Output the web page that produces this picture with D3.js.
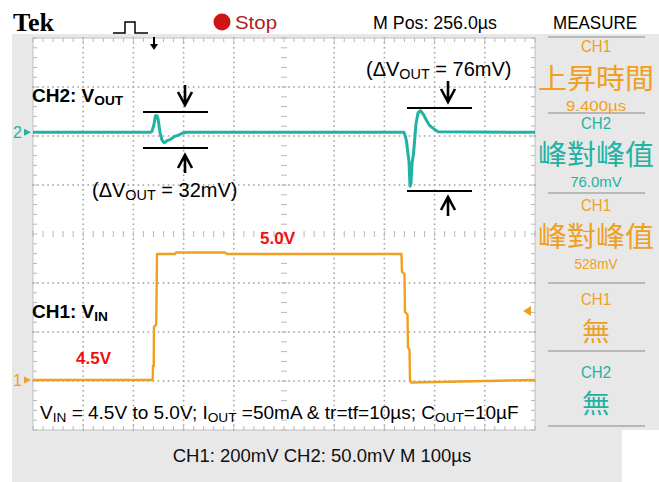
<!DOCTYPE html>
<html>
<head>
<meta charset="utf-8">
<script src="https://cdn.jsdelivr.net/npm/d3@7"></script>
<style>
  body { margin: 0; background: #fff; }
  svg { display: block; font-family: "Liberation Sans", Arial, sans-serif; }
</style>
</head>
<body>
<svg id="scope" width="659" height="482"></svg>
<script>
// CH1 (V_IN) trace, time in µs, volts
const ch1Time = [0, 238.5, 239, 240.5, 241, 245.5, 246.5, 247, 283, 285, 383, 386, 734, 735, 740, 741, 746, 747, 750, 751, 753, 1000];
const ch1Volt = [4.5, 4.5, 4.556, 4.556, 4.71, 4.72, 4.9, 5.0, 5.0, 5.006, 5.006, 5.0, 5.0, 4.93, 4.92, 4.77, 4.76, 4.63, 4.62, 4.5, 4.49, 4.5];

// CH2 (V_OUT) trace, time in µs, mV deviation
const ch2Time = [0, 233, 237, 241, 244, 247, 249, 253, 257, 261, 264, 267, 273, 281, 289, 297, 305, 739, 741, 744, 747, 749, 751, 753, 755, 758, 763, 767, 772, 778, 784, 790, 797, 807, 1000];
const ch2Mv = [0, 0, 1, 8, 17, 17, 14, 0, -8, -10.5, -10, -8.5, -7.5, -4.5, -3, -1, 0, 0, -3, -9, -22, -30, -55, -52, -32, -22, 9, 20, 22, 18, 12, 7, 4, 0.5, 0];

// measure panel
const measureCh = ["CH1", "CH2", "CH1", "CH1", "CH2"];
const measureName = ["上昇時間", "峰對峰值", "峰對峰值", "無", "無"];
const measureVal = ["9.400\u00b5s", "76.0mV", "528mV", "", ""];

const orange = "#f0a020", teal = "#22b2a4";

const svg = d3.select("#scope");

// time / volt scales
const x = d3.scaleLinear().domain([0, 1000]).range([33, 535]);
const y1 = d3.scaleLinear().domain([4.5, 5.0]).range([380, 254]);
const y2 = d3.scaleLinear().domain([-50, 50]).range([132.3 + 49, 132.3 - 49]);

// division scales for the graticule
const xDiv = d3.scaleLinear().domain([0, 10]).range([33, 535]);
const yDiv = d3.scaleLinear().domain([0, 8]).range([38, 430]);

// backgrounds
svg.append("rect").attr("x", 12).attr("y", 34).attr("width", 610).attr("height", 448).attr("fill", "#e8e8e8");
svg.append("rect").attr("x", 535).attr("y", 34).attr("width", 124).attr("height", 396).attr("fill", "#e8e8e8");
svg.append("rect").attr("x", xDiv(0)).attr("y", yDiv(0))
    .attr("width", xDiv(10) - xDiv(0)).attr("height", yDiv(8) - yDiv(0))
    .attr("fill", "#fff").attr("stroke", "#c0c0c0");

const grid = svg.append("g").attr("fill", "#a6a6a6").attr("stroke", "#b8b8b8");
const minorX = d3.range(0, 10.01, 0.2), minorY = d3.range(0, 8.01, 0.2);
const dotX = d3.range(0, 10.01, 0.1), dotY = d3.range(0, 8.01, 0.1);

// dotted division lines
d3.range(1, 10).forEach(k => {
  grid.selectAll(null).data(k === 5 ? [] : dotY).enter().append("rect")
    .attr("x", xDiv(k) - 0.8).attr("y", d => yDiv(d) - 0.8)
    .attr("width", 1.6).attr("height", 1.6).attr("stroke", "none");
});
d3.range(1, 8).forEach(k => {
  grid.selectAll(null).data(k === 4 ? [] : dotX).enter().append("rect")
    .attr("x", d => xDiv(d) - 0.8).attr("y", yDiv(k) - 0.8)
    .attr("width", 1.6).attr("height", 1.6).attr("stroke", "none");
});

// ticks on the edges and the centre cross
grid.selectAll(null).data(minorX).enter().append("path")
  .attr("d", d => `M${xDiv(d)},${yDiv(0)}v4M${xDiv(d)},${yDiv(8)}v-4M${xDiv(d)},${yDiv(4) - 3}v6`);
grid.selectAll(null).data(minorY).enter().append("path")
  .attr("d", d => `M${xDiv(0)},${yDiv(d)}h4M${xDiv(10)},${yDiv(d)}h-4M${xDiv(5) - 3},${yDiv(d)}h6`);

// traces
const line1 = d3.line().x((d, i) => x(ch1Time[i])).y(d => y1(d));
const line2 = d3.line().x((d, i) => x(ch2Time[i])).y(d => y2(d));

svg.append("path").attr("d", line1(ch1Volt)).attr("fill", "none")
  .attr("stroke", orange).attr("stroke-width", 2.4).attr("stroke-linejoin", "round");
svg.append("path").attr("d", line2(ch2Mv)).attr("fill", "none")
  .attr("stroke", teal).attr("stroke-width", 3).attr("stroke-linejoin", "round");

// channel markers
svg.append("text").attr("x", 13).attr("y", y2(0) + 6).attr("fill", teal).attr("font-size", 16).text("2");
svg.append("path").attr("d", `M24,${y2(0) - 3.5}L31,${y2(0)}L24,${y2(0) + 3.5}Z`).attr("fill", teal);
svg.append("text").attr("x", 13).attr("y", y1(4.5) + 6).attr("fill", orange).attr("font-size", 16).text("1");
svg.append("path").attr("d", `M24,${y1(4.5) - 3.5}L31,${y1(4.5)}L24,${y1(4.5) + 3.5}Z`).attr("fill", orange);
svg.append("path").attr("d", "M531,306L523,311L531,316Z").attr("fill", orange);

// header
svg.append("text").attr("x", 13).attr("y", 31).style("font-family", "'Liberation Serif', 'DejaVu Serif', serif")
  .attr("font-weight", "bold").attr("font-size", 26).text("Tek");
svg.append("path").attr("d", "M113,33H125V22H135V33H148").attr("fill", "none").attr("stroke", "#000").attr("stroke-width", 1.5);
svg.append("path").attr("d", "M154,37V46").attr("stroke", "#000").attr("stroke-width", 2);
svg.append("path").attr("d", "M150,44L154,50L158,44Z").attr("fill", "#000");
svg.append("circle").attr("cx", 222).attr("cy", 22).attr("r", 8.5).attr("fill", "#d01414");
svg.append("text").attr("x", 235).attr("y", 29).attr("font-size", 18).attr("fill", "#b01c1c")
  .attr("textLength", 42).attr("lengthAdjust", "spacingAndGlyphs").text("Stop");
svg.append("text").attr("x", 373).attr("y", 29).attr("font-size", 18)
  .attr("textLength", 124).attr("lengthAdjust", "spacingAndGlyphs").text("M Pos: 256.0\u00b5s");
svg.append("text").attr("x", 595).attr("y", 29).attr("font-size", 18).attr("text-anchor", "middle")
  .attr("textLength", 84).attr("lengthAdjust", "spacingAndGlyphs").text("MEASURE");

// measure panel
const panel = svg.append("g").attr("text-anchor", "middle");
const sepY = [37, 113, 193, 283, 351, 426];
panel.selectAll("line").data(sepY).enter().append("line")
  .attr("x1", 548).attr("x2", 645).attr("y1", d => d).attr("y2", d => d)
  .attr("stroke", "#a8a8a8").attr("stroke-width", 1.5);
const chY = [52, 129, 211, 305, 378];
const nameY = [89, 165, 247, 341, 413];
const valY = [111, 187, 269, 0, 0];
measureCh.forEach((c, i) => {
  const col = c === "CH1" ? orange : teal;
  panel.append("text").attr("x", 596).attr("y", chY[i]).attr("fill", col).attr("font-size", 17)
    .attr("textLength", 30).attr("lengthAdjust", "spacingAndGlyphs").text(c);
  const big = measureName[i].length > 1;
  panel.append("text").attr("x", 596).attr("y", nameY[i]).attr("fill", col)
    .style("font-family", "'Noto Sans CJK TC', sans-serif").attr("font-size", big ? 28 : 26)
    .attr("textLength", big ? 116 : 28).attr("lengthAdjust", "spacingAndGlyphs").text(measureName[i]);
  if (measureVal[i]) {
    panel.append("text").attr("x", 596).attr("y", valY[i]).attr("fill", col).attr("font-size", 15)
      .attr("textLength", measureVal[i].length * 8.6).attr("lengthAdjust", "spacingAndGlyphs").text(measureVal[i]);
  }
});

// annotation bars and arrows
const ann = svg.append("g").attr("stroke", "#000").attr("fill", "none").attr("stroke-width", 2.2);
const bars = [[143, 208, 112], [143, 208, 148], [407, 472, 108], [407, 472, 191]];
ann.selectAll("line").data(bars).enter().append("line")
  .attr("x1", d => d[0]).attr("x2", d => d[1]).attr("y1", d => d[2]).attr("y2", d => d[2]);
function arrow(cx, y0, y1) {
  const dir = y1 > y0 ? 1 : -1;
  ann.append("path").attr("stroke-width", 2.6)
    .attr("d", `M${cx},${y0}V${y1}M${cx - 7},${y1 - dir * 13}L${cx},${y1}L${cx + 7},${y1 - dir * 13}`);
}
arrow(185, 85, 105);
arrow(185, 173, 155);
arrow(448, 81, 102);
arrow(448, 216, 197);

// text labels
function subText(xp, yp, parts, opts) {
  const t = svg.append("text").attr("x", xp).attr("y", yp).attr("font-size", opts.size)
    .attr("font-weight", opts.bold ? "bold" : "normal").attr("fill", "#000");
  parts.forEach(p => {
    if (p.sub) t.append("tspan").attr("font-size", opts.size * 0.72).attr("dy", 3).text(p.sub);
    else t.append("tspan").attr("dy", p.after ? -3 : 0).text(p.t);
  });
  return t;
}
subText(32, 102, [{t: "CH2: V"}, {sub: "OUT"}], {size: 19, bold: true});
subText(32, 318, [{t: "CH1: V"}, {sub: "IN"}], {size: 19, bold: true});
subText(92, 197, [{t: "(\u0394V"}, {sub: "OUT"}, {t: " = 32mV)", after: true}], {size: 20});
subText(366, 76, [{t: "(\u0394V"}, {sub: "OUT"}, {t: " = 76mV)", after: true}], {size: 20});
subText(40, 419, [{t: "V"}, {sub: "IN"}, {t: " = 4.5V to 5.0V; I", after: true}, {sub: "OUT"},
  {t: " =50mA & tr=tf=10\u00b5s; C", after: true}, {sub: "OUT"}, {t: "=10\u00b5F", after: true}], {size: 19});

svg.append("text").attr("x", 260).attr("y", 244).attr("font-size", 17).attr("font-weight", "bold")
  .attr("fill", "#f01010").text("5.0V");
svg.append("text").attr("x", 76).attr("y", 364).attr("font-size", 17).attr("font-weight", "bold")
  .attr("fill", "#f01010").text("4.5V");

svg.append("text").attr("x", 322).attr("y", 462).attr("font-size", 18.5).attr("text-anchor", "middle")
  .attr("fill", "#111").text("CH1: 200mV CH2: 50.0mV M 100\u00b5s");
</script>
</body>
</html>
